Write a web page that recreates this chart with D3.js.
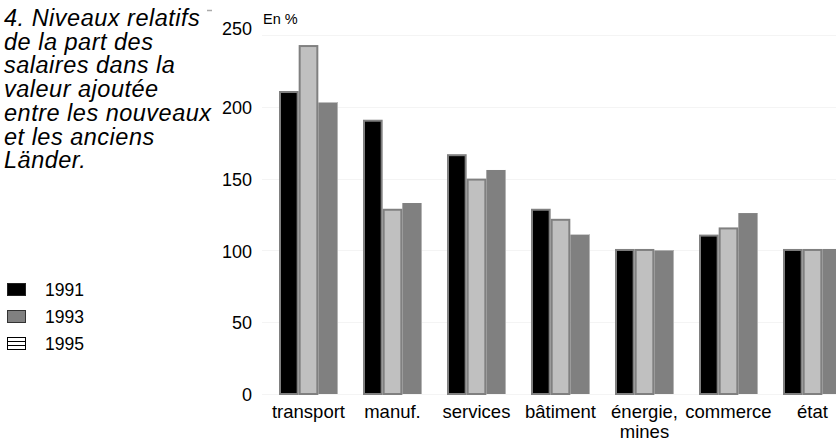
<!DOCTYPE html>
<html><head><meta charset="utf-8">
<script src="https://cdn.jsdelivr.net/npm/d3@7"></script>
<style>
body{margin:0;background:#fff}
svg{display:block}
text{font-family:"Liberation Sans",Arial,Helvetica,sans-serif;fill:#000}
</style>
</head><body>
<svg id="c" width="836" height="441"></svg>
<script>
const categories = ["transport", "manuf.", "services", "bâtiment", "énergie,\nmines", "commerce", "état"];
const series1991 = [211, 191, 167, 129, 101, 111, 101];
const series1993 = [243, 129, 150, 122, 101, 116, 101];
const series1995 = [203, 133, 156, 111, 100, 126, 101];
const years = ["1991", "1993", "1995"];
const yTicks = [0, 50, 100, 150, 200, 250];
const titleLines = ["4. Niveaux relatifs", "de la part des", "salaires dans la", "valeur ajoutée", "entre les nouveaux", "et les anciens", "Länder."];
const unitLabel = "En %";

const seriesByYear = {"1991": series1991, "1993": series1993, "1995": series1995};
const rows = categories.map((c, i) => ({cat: c, vals: years.map(y => ({year: y, v: seriesByYear[y][i]}))}));

const svg = d3.select("#c");

const y = d3.scaleLinear().domain([0, 250]).range([394, 35]);
const x0 = d3.scaleBand().domain(categories).range([254, 867]).paddingInner(0.2976).paddingOuter(0.2976);
const x1 = d3.scaleBand().domain(years).range([0, x0.bandwidth()]);

// faint gridlines
svg.append("g").selectAll("line").data(yTicks).join("line")
  .attr("x1", 262).attr("x2", 836)
  .attr("y1", d => Math.round(y(d)) + 0.5).attr("y2", d => Math.round(y(d)) + 0.5)
  .attr("stroke", "#f4f4f4").attr("stroke-width", 1);

// y axis labels
const yAxis = d3.axisLeft(y).tickValues(yTicks).tickSize(0).tickPadding(0);
const gy = svg.append("g").attr("transform", "translate(252,1)").call(yAxis);
gy.select(".domain").remove();
gy.selectAll("text").style("font-size", "18px").style("font-family", '"Liberation Sans",Arial,sans-serif').attr("fill", "#000");
gy.selectAll(".tick").filter(d => d === 250).select("text").attr("dy", "-0.1em");

// bars
const styles = {
  "1991": {fill: "#000000", stroke: "#808080"},
  "1993": {fill: "#c0c0c0", stroke: "#808080"},
  "1995": {fill: "#808080", stroke: null}
};
const groups = svg.append("g").selectAll("g").data(rows).join("g")
  .attr("transform", d => `translate(${x0(d.cat)},0)`);
groups.selectAll("rect").data(d => d.vals).join("rect")
  .attr("x", d => x1(d.year) + (styles[d.year].stroke ? 1 : 0))
  .attr("y", d => y(d.v) + (styles[d.year].stroke ? 1 : 0))
  .attr("width", d => x1.bandwidth() - (styles[d.year].stroke ? 2 : 0))
  .attr("height", d => y(0) - y(d.v) - (styles[d.year].stroke ? 1 : 0))
  .attr("fill", d => styles[d.year].fill)
  .attr("stroke", d => styles[d.year].stroke || "none")
  .attr("stroke-width", 2);
// light right edge on the 1995 bars
groups.selectAll("line.edge").data(d => d.vals.filter(v => v.year === "1995")).join("line")
  .attr("class", "edge")
  .attr("x1", d => x1(d.year) + x1.bandwidth() - 0.5).attr("x2", d => x1(d.year) + x1.bandwidth() - 0.5)
  .attr("y1", d => y(d.v)).attr("y2", y(0))
  .attr("stroke", "#b4b4b4").attr("stroke-width", 1);

// category labels
const cl = svg.append("g").selectAll("text").data(categories).join("text")
  .attr("x", d => x0(d) + x0.bandwidth() / 2)
  .attr("y", 418)
  .attr("text-anchor", "middle")
  .style("font-size", "18.5px");
cl.selectAll("tspan").data(d => d.split("\n")).join("tspan")
  .attr("x", function() { return d3.select(this.parentNode).attr("x"); })
  .attr("dy", (d, i) => i === 0 ? 0 : 20)
  .text(d => d);

// unit label
svg.append("text").attr("x", 263).attr("y", 24).style("font-size", "14.5px").text(unitLabel);

// title
svg.append("g").selectAll("text").data(titleLines).join("text")
  .attr("x", 4).attr("y", (d, i) => 26 + i * 23.7)
  .style("font-size", "23.5px").style("font-style", "italic").style("letter-spacing", "0.5px")
  .text(d => d);
svg.append("line").attr("x1", 207).attr("x2", 212).attr("y1", 10.5).attr("y2", 10.5)
  .attr("stroke", "#aaa").attr("stroke-width", 1.5);

// legend
const lg = svg.append("g").selectAll("g").data(years).join("g")
  .attr("transform", (d, i) => `translate(7,${283 + i * 27})`);
lg.append("rect").attr("x", 0.5).attr("y", 0.5).attr("width", 18).attr("height", 12)
  .attr("fill", d => d === "1991" ? "#000" : d === "1993" ? "#808080" : "#fff")
  .attr("stroke", d => d === "1991" ? "#222" : d === "1993" ? "#333" : "#000")
  .attr("stroke-width", 1);
lg.filter(d => d === "1995").selectAll("line").data([4.5, 8.5]).join("line")
  .attr("x1", 0.5).attr("x2", 18.5).attr("y1", d => d).attr("y2", d => d)
  .attr("stroke", "#000").attr("stroke-width", 1);
lg.append("text").attr("x", 38).attr("y", 13).style("font-size", "17.5px").text(d => d);
</script>
</body></html>
